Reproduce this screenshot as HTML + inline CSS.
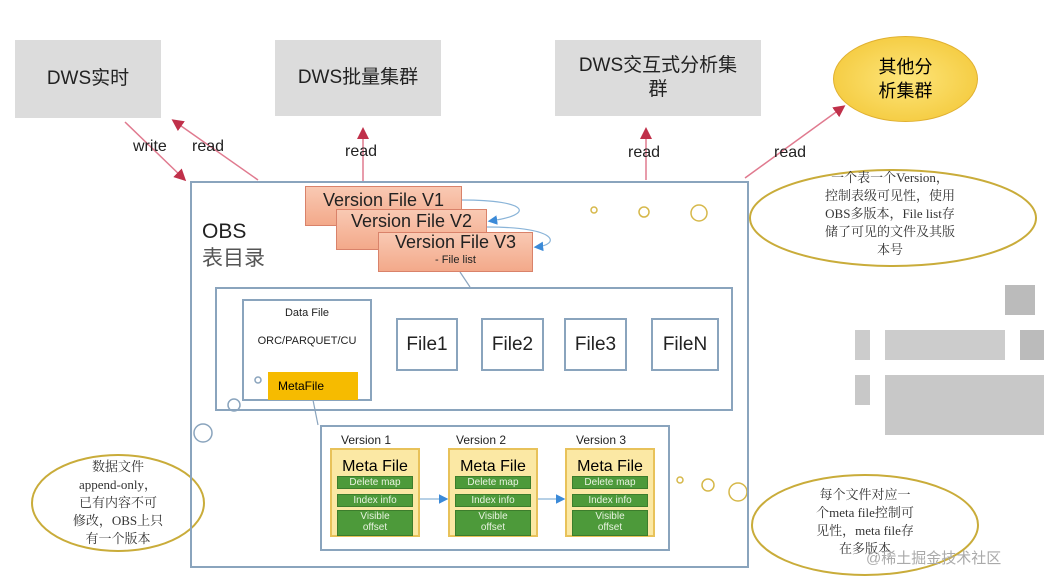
<!DOCTYPE html>
<html><head><meta charset="utf-8"><style>
body{margin:0;width:1044px;height:586px;background:#fff;overflow:hidden;font-family:"Liberation Sans","Noto Sans CJK SC",sans-serif;position:relative}
.a{position:absolute;box-sizing:border-box}
.g{background:#dcdcdc;display:flex;align-items:center;justify-content:center;font-size:19px;color:#222;text-align:center;line-height:24px}
.vf{background:linear-gradient(#f9c9b3,#f3a98a);border:1px solid #d9826a;font-size:18px;color:#222;text-align:center}
.f{border:2px solid #8aa4bd;background:#fff;display:flex;align-items:center;justify-content:center;font-size:19px;color:#222}
.mf{background:#fbe8a4;border:2px solid #e8c25a;text-align:center}
.gr{background:#4d9a3a;color:#e8f3e0;font-size:10px;margin:0 5px 3px 5px;border:1px solid #3c7d2c;line-height:11px}
.t{font-size:12px;color:#222}
</style></head><body>
<div class="a g" style="left:15px;top:40px;width:146px;height:78px">DWS实时</div>
<div class="a g" style="left:275px;top:40px;width:166px;height:76px">DWS批量集群</div>
<div class="a g" style="left:555px;top:40px;width:206px;height:76px">DWS交互式分析集<br>群</div>
<div class="a" style="left:833px;top:36px;width:145px;height:86px;border-radius:50%;background:radial-gradient(#fde57a,#f2c430);border:1px solid #e0b030;display:flex;align-items:center;justify-content:center;font-size:18px;text-align:center;line-height:24px">其他分<br>析集群</div>

<svg class="a" style="left:0;top:0" width="1044" height="586">
<defs><marker id="m" markerWidth="8" markerHeight="8" refX="6" refY="4" orient="auto"><path d="M0,0L8,4L0,8z" fill="#c0304a"/></marker>
<marker id="b" markerWidth="8" markerHeight="8" refX="6" refY="4" orient="auto"><path d="M0,0L8,4L0,8z" fill="#3b8ad8"/></marker></defs>
<g stroke="#e07a8f" stroke-width="1.5" fill="none">
<line x1="125" y1="122" x2="184" y2="179" marker-end="url(#m)"/>
<line x1="258" y1="180" x2="174" y2="121" marker-end="url(#m)"/>
<line x1="363" y1="183" x2="363" y2="130" marker-end="url(#m)"/>
<line x1="646" y1="180" x2="646" y2="130" marker-end="url(#m)"/>
<line x1="745" y1="178" x2="843" y2="107" marker-end="url(#m)"/>
</g>
<g stroke="#8ab4d8" stroke-width="1.2" fill="none">
<path d="M462,200 C530,200 535,215 490,221" marker-end="url(#b)"/>
<path d="M487,227 C560,227 560,245 536,247" marker-end="url(#b)"/>
<line x1="460" y1="272" x2="470" y2="287" stroke="#8aa4bd"/>
<line x1="313" y1="400" x2="318" y2="425" stroke="#8aa4bd"/>
<line x1="420" y1="499" x2="446" y2="499" marker-end="url(#b)"/>
<line x1="538" y1="499" x2="563" y2="499" marker-end="url(#b)"/>
</g>
<g fill="#fff" stroke="#d6b84a" stroke-width="1.5">
<circle cx="594" cy="210" r="3"/><circle cx="644" cy="212" r="5"/><circle cx="699" cy="213" r="8"/>
<circle cx="680" cy="480" r="3"/><circle cx="708" cy="485" r="6"/><circle cx="738" cy="492" r="9"/>
</g>
<g fill="#fff" stroke="#8aa4bd" stroke-width="1.5">
<circle cx="258" cy="380" r="3"/><circle cx="234" cy="405" r="6"/><circle cx="203" cy="433" r="9"/>
</g>
<g fill="#fff" stroke="#c9ac3a" stroke-width="2">
<ellipse cx="118" cy="503" rx="86" ry="48"/>
<ellipse cx="893" cy="218" rx="143" ry="48"/>
<ellipse cx="865" cy="525" rx="113" ry="50"/>
</g>
<g fill="#bbb"><rect x="1005" y="285" width="30" height="30"/><rect x="885" y="330" width="120" height="30" fill="#ccc"/><rect x="1020" y="330" width="24" height="30"/><rect x="885" y="375" width="160" height="60" fill="#c8c8c8"/><rect x="855" y="330" width="15" height="30" fill="#ccc"/><rect x="855" y="375" width="15" height="30" fill="#c8c8c8"/></g>
</svg>
<div class="a t" style="left:133px;top:138px;font-size:16px">write</div>
<div class="a t" style="left:192px;top:138px;font-size:16px">read</div>
<div class="a t" style="left:345px;top:143px;font-size:16px">read</div>
<div class="a t" style="left:628px;top:144px;font-size:16px">read</div>
<div class="a t" style="left:774px;top:144px;font-size:16px">read</div>

<div class="a" style="left:190px;top:181px;width:559px;height:387px;border:2px solid #8aa4bd"></div>
<div class="a" style="left:202px;top:218px;font-size:21px;line-height:27px;color:#222">OBS<br><span style="color:#555">表目录</span></div>
<div class="a vf" style="left:305px;top:186px;width:157px;height:40px;line-height:26px">Version File V1</div>
<div class="a vf" style="left:336px;top:209px;width:151px;height:41px;line-height:22px">Version File V2</div>
<div class="a vf" style="left:378px;top:232px;width:155px;height:40px;line-height:18px">Version File V3<div style="font-size:11px;line-height:18px">- File list</div></div>

<div class="a" style="left:215px;top:287px;width:518px;height:124px;border:2px solid #8aa4bd"></div>
<div class="a" style="left:242px;top:299px;width:130px;height:102px;border:2px solid #8aa4bd;text-align:center;font-size:11px;color:#222"><div style="margin-top:6px">Data File</div><div style="margin-top:16px">ORC/PARQUET/CU</div></div>
<div class="a" style="left:268px;top:372px;width:90px;height:28px;background:#f6bb00;font-size:12px;line-height:28px;padding-left:10px">MetaFile</div>
<div class="a f" style="left:396px;top:318px;width:62px;height:53px">File1</div>
<div class="a f" style="left:481px;top:318px;width:63px;height:53px">File2</div>
<div class="a f" style="left:564px;top:318px;width:63px;height:53px">File3</div>
<div class="a f" style="left:651px;top:318px;width:68px;height:53px">FileN</div>

<div class="a" style="left:320px;top:425px;width:350px;height:126px;border:2px solid #8aa4bd"></div>
<div class="a t" style="left:341px;top:433px">Version 1</div>
<div class="a t" style="left:456px;top:433px">Version 2</div>
<div class="a t" style="left:576px;top:433px">Version 3</div>
<div class="a mf" style="left:330px;top:448px;width:90px;height:89px"><div style="font-size:16px;line-height:18px;margin-top:8px">Meta File</div><div class="gr">Delete map</div><div class="gr" style="margin-top:5px">Index info</div><div class="gr" style="height:24px">Visible<br>offset</div></div>
<div class="a mf" style="left:448px;top:448px;width:90px;height:89px"><div style="font-size:16px;line-height:18px;margin-top:8px">Meta File</div><div class="gr">Delete map</div><div class="gr" style="margin-top:5px">Index info</div><div class="gr" style="height:24px">Visible<br>offset</div></div>
<div class="a mf" style="left:565px;top:448px;width:90px;height:89px"><div style="font-size:16px;line-height:18px;margin-top:8px">Meta File</div><div class="gr">Delete map</div><div class="gr" style="margin-top:5px">Index info</div><div class="gr" style="height:24px">Visible<br>offset</div></div>

<div class="a" style="left:50px;top:458px;width:136px;text-align:center;font-size:13px;line-height:18px;color:#333;font-family:'Liberation Serif','Noto Serif CJK SC',serif">数据文件<br>append-only，<br>已有内容不可<br>修改，OBS上只<br>有一个版本</div>
<div class="a" style="left:770px;top:169px;width:240px;text-align:center;font-size:13px;line-height:18px;color:#333;font-family:'Liberation Serif','Noto Serif CJK SC',serif">一个表一个Version，<br>控制表级可见性，使用<br>OBS多版本，File list存<br>储了可见的文件及其版<br>本号</div>
<div class="a" style="left:790px;top:486px;width:150px;text-align:center;font-size:13px;line-height:18px;color:#333;font-family:'Liberation Serif','Noto Serif CJK SC',serif">每个文件对应一<br>个meta file控制可<br>见性，meta file存<br>在多版本</div>
<div class="a" style="left:866px;top:547px;font-size:15px;color:#aaa">@稀土掘金技术社区</div>
</body></html>
